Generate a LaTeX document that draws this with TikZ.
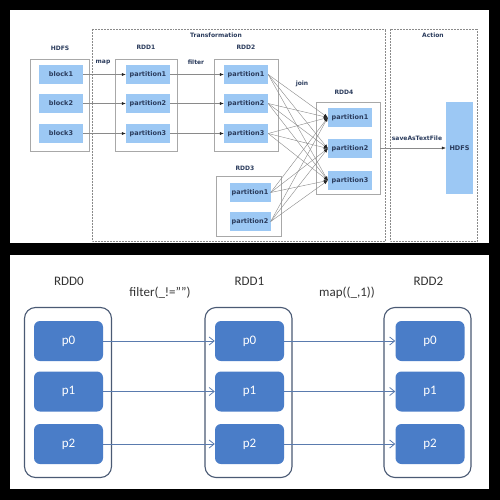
\documentclass[tikz,border=0pt]{standalone}
\usepackage{fontspec}
\setmainfont{DejaVu Sans}
\newfontfamily\calib{Carlito}
\usetikzlibrary{arrows.meta}
\definecolor{partblue}{HTML}{9CC8F4}
\definecolor{navytext}{HTML}{2A3B5C}
\definecolor{boxgray}{HTML}{A8A8A8}
\definecolor{linegray}{HTML}{8A8A8A}
\definecolor{pblue}{HTML}{4A7DC8}
\definecolor{contline}{HTML}{4A5A74}
\definecolor{arrowblue}{HTML}{5A7BAE}
\tikzset{
  part/.style={fill=partblue, minimum width=44, minimum height=19, inner sep=0pt,
    font=\bfseries\fontsize{6.5}{7}\selectfont, text=navytext},
  grp/.style={draw=boxgray, line width=0.7pt, inner sep=0pt},
  lbl/.style={font=\bfseries\fontsize{6}{7}\selectfont, text=navytext, inner sep=0pt},
  zone/.style={draw=linegray, line width=0.5pt, densely dotted},
  flow/.style={draw=linegray, line width=0.4pt, -{Latex[length=4pt,width=3pt,color=black!85]}},
  pbox/.style={fill=pblue, rounded corners=6pt, minimum width=69, minimum height=40,
    inner sep=0pt, font=\calib\fontsize{13}{15}\selectfont, text=white},
  cont/.style={draw=contline, line width=1.1pt, rounded corners=11pt, inner sep=0pt},
  rddlbl/.style={font=\calib\fontsize{13}{15}\selectfont, text=black!80, inner sep=0pt},
  link/.style={draw=arrowblue, line width=0.8pt, -{Straight Barb[length=5pt,width=8pt]}}
}
\begin{document}
\begin{tikzpicture}[x=1pt,y=-1pt]
  \fill[black] (0,0) rectangle (500,500);
  \fill[white] (10,10) rectangle (489,243);
  \fill[white] (10,255) rectangle (489,489);

  % stages
  \draw[zone] (92,29) rectangle (385,241);
  \draw[zone] (390,29) rectangle (477,241);
  \node[lbl] (trans) at (216,35) {Transformation};
  \node[lbl] (action) at (433,35) {Action};

  % group boxes
  \node[grp, minimum width=59, minimum height=92] (hdfsin) at (59.5,105) {};
  \node[grp, minimum width=62, minimum height=92] (rdd1) at (146,105) {};
  \node[grp, minimum width=64, minimum height=92] (rdd2) at (246,105) {};
  \node[grp, minimum width=65, minimum height=60] (rdd3) at (248.5,206) {};
  \node[grp, minimum width=64, minimum height=92] (rdd4) at (348,148) {};
  \node[part, minimum width=27, minimum height=92] (hdfsout) at (459.5,148) {HDFS};

  \node[lbl] at (60,48) {HDFS};
  \node[lbl] at (146,47) {RDD1};
  \node[lbl] at (246,47) {RDD2};
  \node[lbl] at (245,168) {RDD3};
  \node[lbl] at (344,92) {RDD4};
  \node[lbl] at (103,62) {map};
  \node[lbl] at (196,62) {filter};
  \node[lbl] at (302,84) {join};
  \node[lbl] at (417,138) {saveAsTextFile};

  % partitions
  \foreach \i/\y in {1/74.5, 2/103.5, 3/133.5} {
    \node[part] (blk\i) at (61,\y) {block\i};
    \node[part] (r1p\i) at (148,\y) {partition\i};
    \node[part] (r2p\i) at (246,\y) {partition\i};
  }
  \foreach \i/\y in {1/192.5, 2/221.5}
    \node[part, minimum width=41] (r3p\i) at (250,\y) {partition\i};
  \foreach \i/\y in {1/117.5, 2/148.5, 3/180.5}
    \node[part] (r4p\i) at (350,\y) {partition\i};

  \foreach \i in {1,2,3} {
    \draw[flow] (blk\i) -- (r1p\i);
    \draw[flow] (r1p\i) -- (r2p\i);
  }
  \foreach \s in {r2p1,r2p2,r2p3,r3p1,r3p2}
    \foreach \t in {r4p1,r4p2,r4p3}
      \draw[flow] (\s.east) -- (\t.west);
  \draw[flow] (rdd4.east) -- (hdfsout.west);

  % lower panel
  \foreach \r/\x in {0/68, 1/248.5, 2/427.5} {
    \node[cont, minimum width=87, minimum height=170] (c\r) at (\x,392.5) {};
    \node[rddlbl] at (\x+1,281) {RDD\r};
  }
  \node[rddlbl] (flt) at (160,293) {filter(\_!=””)};
  \node[rddlbl] (mp) at (347,293) {map((\_,1))};
  \foreach \r/\x in {0/68.5, 1/249.5, 2/430}
    \foreach \j/\y in {0/341, 1/391.5, 2/444}
      \node[pbox] (q\r\j) at (\x,\y) {p\j};
  \foreach \j in {0,1,2} {
    \draw[link] (q0\j.east) -- (q1\j.west);
    \draw[link] (q1\j.east) -- (q2\j.west);
  }
\end{tikzpicture}
\end{document}
